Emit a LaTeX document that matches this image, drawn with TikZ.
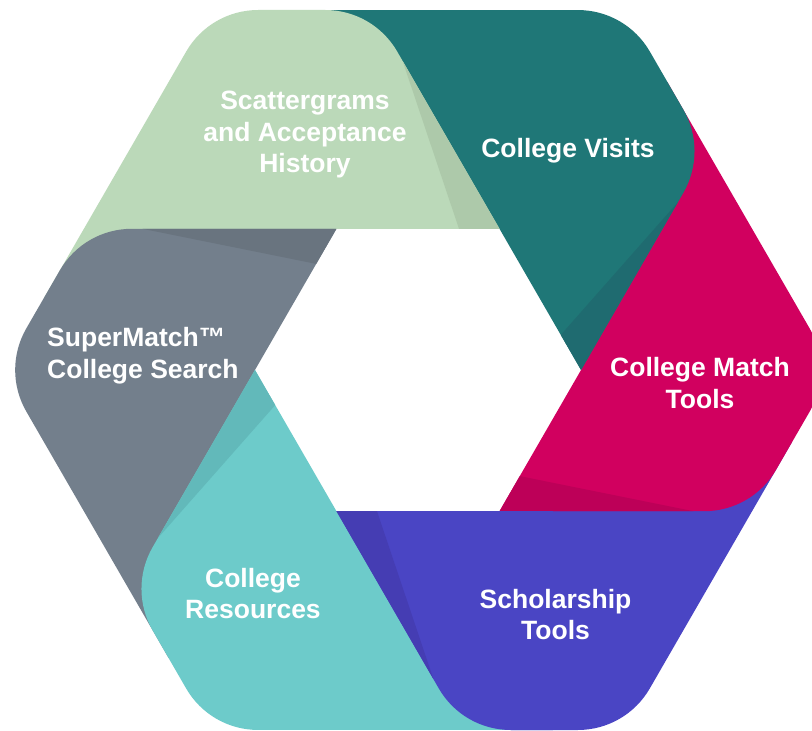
\documentclass[tikz,border=0pt]{standalone}
\usepackage{fontspec}
\setmainfont{Liberation Sans}
\definecolor{cgreen}{HTML}{BBD9B9}
\definecolor{cgreend}{HTML}{ADC9AA}
\definecolor{cteal}{HTML}{1F7777}
\definecolor{ctealdk}{HTML}{1F6B70}
\definecolor{cmag}{HTML}{D1005F}
\definecolor{cmagdk}{HTML}{BD0058}
\definecolor{cblue}{HTML}{4A45C4}
\definecolor{cbluedk}{HTML}{453DB3}
\definecolor{ccyan}{HTML}{6DCBCA}
\definecolor{ccyandk}{HTML}{62B9BA}
\definecolor{cgray}{HTML}{737F8C}
\definecolor{cgraydk}{HTML}{69747F}
\begin{document}
\begin{tikzpicture}[x=1pt,y=1pt,
  lbl/.style={text=white, font=\bfseries\fontsize{26.5}{31.5}\selectfont, align=center, inner sep=0pt},
  pics/segment/.style 2 args={code={
    \fill[#1] (81.5,141.2) -- (-20.8,318.43) .. controls (-35.68,344.2) and (-63.04,360) .. (-92.8,360)
      -- (-159.8,360) .. controls (-189.56,360) and (-216.92,344.2) .. (-231.8,318.43)
      -- (-374.1,71.9) -- (-81.5,141.2) -- cycle;
    \fill[#2] (81.5,141.2) -- (41,141.2) -- (-15.4,309) -- cycle;
  }}
]
\useasboundingbox (-418,-361) rectangle (394,370);
\fill[white] (-418,-361) rectangle (394,370);
\clip (-418,-361) rectangle (394,370);
% cyclic stacking: each segment lies over the next one clockwise
\pic[rotate=180] (blue) {segment={cblue}{cbluedk}};
\pic[rotate=-120] (magenta) {segment={cmag}{cmagdk}};
\pic[rotate=-60] (teal) {segment={cteal}{ctealdk}};
\pic (green) {segment={cgreen}{cgreend}};
\pic[rotate=60] (gray) {segment={cgray}{cgraydk}};
\pic[rotate=120] (cyan) {segment={ccyan}{ccyandk}};
\begin{scope}
  \clip (-420,-400) rectangle (135,-141.2);
  \pic[rotate=180] (blueover) {segment={cblue}{cbluedk}};
\end{scope}
\node[lbl] (scatter) at (-113,234.8) {\strut Scattergrams\\\strut and Acceptance\\\strut History};
\node[lbl] (visits) at (150,218.4) {\strut College Visits};
\node[lbl] (match) at (282,-16) {\strut College Match\\\strut Tools};
\node[lbl] (schol) at (137.5,-247.45) {\strut Scholarship\\\strut Tools};
\node[lbl] (resources) at (-165,-226.45) {\strut College\\\strut Resources};
\node[lbl, anchor=west, align=left] (supermatch) at (-371,13.55) {\strut SuperMatch™\\\strut College Search};
\end{tikzpicture}
\end{document}
